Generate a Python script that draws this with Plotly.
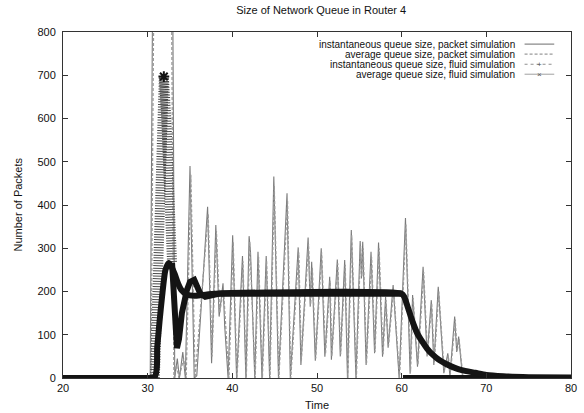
import plotly.graph_objects as go

# ---- packet simulation: instantaneous queue size ----
pkt_inst_t = [20.0, 30.3, 30.65, 32.9, 33.2, 33.5, 33.75, 34.15, 34.45, 35.0, 35.5, 35.8,
              37.08, 37.55, 38.05, 38.44, 38.9, 39.1, 39.5, 40.04, 40.5, 41.2, 41.6, 41.98,
              42.15, 42.65, 43.03, 43.5, 44.0, 44.4, 44.9, 45.45, 46.46, 46.85, 47.78, 48.1,
              48.95, 49.2, 49.37, 49.8, 50.5, 50.93, 51.5, 51.7, 52.4, 52.75, 53.27, 53.6,
              54.05, 54.6, 55.1, 55.25, 55.4, 55.8, 56.38, 56.8, 57.27, 57.74, 58.1, 58.4,
              58.99, 59.7, 60.45, 61.0, 61.29, 61.87, 62.53, 63.0, 63.5, 63.8, 64.32, 64.98,
              65.45, 65.7, 66.26, 66.5, 66.73, 67.2, 80.0]
pkt_inst_q = [0, 0, 1100, 1100, 0, 45, 0, 60, 0, 490, 0, 5,
              396, 34, 354, 142, 219, 120, 0, 330, 0, 282, 0, 328,
              290, 0, 292, 0, 282, 0, 466, 0, 427, 0, 302, 30,
              325, 165, 269, 40, 300, 49, 234, 42, 274, 50, 273, 0,
              342, 0, 317, 230, 315, 30, 292, 57, 313, 49, 188, 70,
              215, 0, 370, 10, 192, 26, 257, 50, 180, 30, 211, 11,
              57, 5, 142, 60, 96, 0, 0]

# ---- packet simulation: average queue size ----
pkt_avg_t = [20.0, 30.4, 30.8, 32.75, 33.1, 33.4, 33.7, 34.25, 34.55, 35.1, 35.6, 37.15,
             37.6, 38.12, 38.5, 38.95, 39.6, 40.1, 40.55, 41.25, 41.65, 42.05, 42.7, 43.1,
             43.55, 44.05, 44.45, 44.95, 45.5, 46.52, 46.9, 47.85, 48.15, 49.0, 49.25, 49.45,
             49.85, 50.55, 51.0, 51.55, 51.75, 52.45, 52.8, 53.33, 53.65, 54.1, 54.65, 55.15,
             55.3, 55.45, 55.85, 56.45, 56.85, 57.33, 57.8, 58.15, 58.45, 59.05, 59.75, 60.5,
             61.05, 61.35, 61.92, 62.6, 63.05, 63.55, 63.85, 64.38, 65.02, 65.5, 65.75, 66.32,
             66.55, 66.78, 67.25, 80.0]
pkt_avg_q = [0, 0, 1100, 1100, 0, 30, 0, 45, 0, 470, 0, 380,
             50, 340, 150, 205, 0, 315, 0, 270, 0, 315, 0, 280,
             0, 270, 0, 445, 0, 410, 0, 290, 40, 310, 170, 255,
             45, 290, 55, 225, 50, 265, 55, 262, 0, 330, 0, 305,
             235, 300, 35, 280, 60, 300, 55, 180, 75, 205, 0, 355,
             15, 185, 30, 245, 55, 172, 35, 200, 15, 52, 8, 135,
             62, 90, 0, 0]

# ---- fluid model: instantaneous queue size ----
fl_inst_t = [20.0, 30.85, 31.1, 31.4, 31.7, 31.91, 32.2, 32.49, 32.88, 33.27, 33.46, 33.7,
             34.04, 34.63, 35.0, 35.5, 35.9, 36.19, 36.8, 37.5, 38.5, 60.0, 60.15, 80.0]
fl_inst_q = [0, 0, 150, 380, 600, 697, 600, 497, 266, 111, 69, 90,
             150, 203, 222, 227, 210, 196, 188, 192, 195, 195, 0, 0]

# ---- fluid model: average queue size ----
fl_avg_t = [20.0, 30.75, 31.13, 31.4, 31.7, 32.1, 32.49, 32.8, 33.2, 33.6, 34.0, 34.6,
            35.5, 36.5, 38.0, 60.0, 60.3, 60.7, 61.2, 61.8, 62.4, 63.0, 63.6, 64.4,
            65.2, 66.2, 67.1, 68.7, 70.0, 72.0, 75.0, 80.0]
fl_avg_q = [0, 0, 72, 130, 188, 250, 266, 258, 240, 218, 203, 193,
            190, 192, 195, 195, 188, 165, 135, 105, 85, 68, 55, 42,
            33, 24, 18, 12, 7, 4, 2, 1]

legend_labels = [
    "instantaneous queue size, packet simulation",
    "average queue size, packet simulation",
    "instantaneous queue size, fluid simulation",
    "average queue size, fluid simulation",
]

x_ticks = [20, 30, 40, 50, 60, 70, 80]
y_ticks = [0, 100, 200, 300, 400, 500, 600, 700, 800]

FONT = "Liberation Sans, Arial, Helvetica, sans-serif"
AXIS_COLOR = "#333333"

# The fluid solver samples densely where the queue changes slowly (drawn as a heavy
# band) and sparsely on the steep burst at ~31-33 s (drawn as a striped band).
# The jump to zero at t = 60 falls between two samples and is left unconnected.
steep_lo, steep_hi = 30.85, 32.88
jump_at = 60.0


def split_series(ts, qs):
    slow, steep = [], []
    for t, q in zip(ts, qs):
        steep.append(q if steep_lo <= t <= steep_hi else None)
        slow.append(q if (t <= steep_lo or t >= steep_hi) else None)
    xs_slow, ys_slow = [], []
    for i, (t, q) in enumerate(zip(ts, slow)):
        if i > 0 and ts[i - 1] == jump_at:
            xs_slow.append(None)
            ys_slow.append(None)
        xs_slow.append(t)
        ys_slow.append(q)
    return xs_slow, ys_slow, list(ts), steep


fig = go.Figure()

fig.add_trace(go.Scatter(
    x=pkt_inst_t, y=pkt_inst_q, mode="lines", name=legend_labels[0],
    line=dict(color="#7a7a7a", width=1.1), showlegend=False))
fig.add_trace(go.Scatter(
    x=pkt_avg_t, y=pkt_avg_q, mode="lines", name=legend_labels[1],
    line=dict(color="#9a9a9a", width=1.3, dash="3px,2px"), showlegend=False))

inst_xs, inst_ys, steep_xs, steep_ys = split_series(fl_inst_t, fl_inst_q)
fig.add_trace(go.Scatter(
    x=steep_xs, y=steep_ys, mode="lines", name=legend_labels[2],
    line=dict(color="#4a4a4a", width=10, dash="1px,1.6px"), showlegend=False,
    connectgaps=False))
fig.add_trace(go.Scatter(
    x=inst_xs, y=inst_ys, mode="lines", name=legend_labels[2],
    line=dict(color="#141414", width=6), showlegend=False, connectgaps=False))
fig.add_trace(go.Scatter(
    x=fl_avg_t, y=fl_avg_q, mode="lines", name=legend_labels[3],
    line=dict(color="#141414", width=6, shape="spline", smoothing=0.6),
    showlegend=False))
# peak of the fluid burst
peak_i = fl_inst_q.index(max(fl_inst_q))
fig.add_trace(go.Scatter(
    x=[fl_inst_t[peak_i]], y=[fl_inst_q[peak_i]], mode="markers",
    marker=dict(symbol="asterisk-open", size=9, color="#111111",
                line=dict(color="#111111", width=2)),
    showlegend=False, hoverinfo="skip"))

axis_common = dict(
    showline=True, linecolor=AXIS_COLOR, linewidth=1, mirror="ticks",
    ticks="inside", ticklen=5, tickcolor=AXIS_COLOR, tickwidth=1,
    showgrid=False, zeroline=False,
    tickfont=dict(family=FONT, size=11, color="#111111"),
)

fig.update_xaxes(range=[20, 80], tickvals=x_ticks, ticktext=[str(v) for v in x_ticks],
                 **axis_common)
fig.update_yaxes(range=[0, 800], tickvals=y_ticks, ticktext=[str(v) for v in y_ticks],
                 ticklabelstandoff=4, **axis_common)

# Legend in the upper right corner: right-aligned labels followed by line samples
row_y = [0.965, 0.936, 0.907, 0.878]
text_x = 0.893
samp_x0, samp_x1 = 0.9086, 0.967
samp_styles = [
    dict(color="#7a7a7a", width=1.1, dash="solid"),
    dict(color="#9a9a9a", width=1.1, dash="3px,2px"),
    dict(color="#909090", width=1.1, dash="dot"),
    dict(color="#a0a0a0", width=1.0, dash="solid"),
]
samp_marks = [None, None, "+", "×"]

annotations = []
shapes = []
for lbl, yy, st, mk in zip(legend_labels, row_y, samp_styles, samp_marks):
    annotations.append(dict(
        text=lbl, x=text_x, y=yy, xref="paper", yref="paper",
        xanchor="right", yanchor="middle", showarrow=False,
        font=dict(family=FONT, size=10, color="#111111")))
    shapes.append(dict(type="line", xref="paper", yref="paper",
                       x0=samp_x0, x1=samp_x1, y0=yy, y1=yy, line=st))
    if mk:
        annotations.append(dict(
            text=mk, x=(samp_x0 + samp_x1) / 2, y=yy, xref="paper", yref="paper",
            xanchor="center", yanchor="middle", showarrow=False,
            font=dict(family=FONT, size=8, color="#555555")))

# Axis titles
annotations.append(dict(
    text="Time", x=0.5, y=-0.078, xref="paper", yref="paper",
    xanchor="center", yanchor="middle", showarrow=False,
    font=dict(family=FONT, size=11, color="#111111")))
annotations.append(dict(
    text="Number of Packets", x=-0.0895, y=0.5, xref="paper", yref="paper",
    xanchor="center", yanchor="middle", showarrow=False, textangle=-90,
    font=dict(family=FONT, size=11, color="#111111")))

fig.update_layout(
    width=584, height=413,
    margin=dict(l=63, r=7, t=32, b=35),
    paper_bgcolor="white", plot_bgcolor="white",
    title=dict(text="Size of Network Queue in Router 4", x=0.55, xanchor="center",
               y=1 - 10 / 413, yanchor="middle",
               font=dict(family=FONT, size=11, color="#111111")),
    annotations=annotations,
    shapes=shapes,
    showlegend=False,
)

fig.write_html("out.html")
